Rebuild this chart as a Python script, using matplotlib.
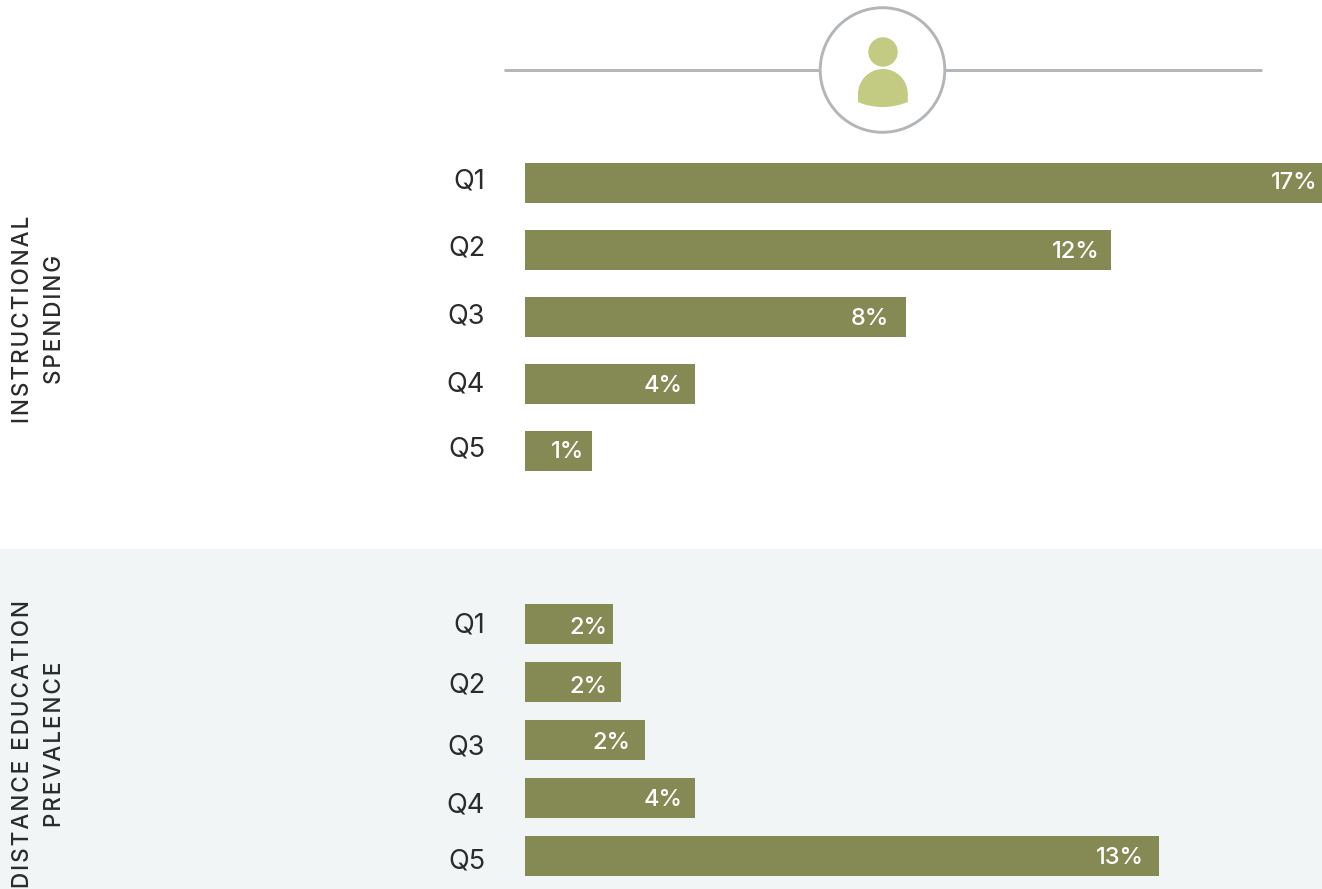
import matplotlib
matplotlib.use("Agg")
import matplotlib.pyplot as plt
from matplotlib.patches import Circle, Rectangle, PathPatch
from matplotlib.path import Path

plt.rcParams['font.family'] = ['Inter', 'DejaVu Sans']

W, H = 1322, 889
BAR = '#858a55'
ICON = '#c3ca82'
GREY = '#b3b6b9'
TEXT = '#2b2b2b'

quarters = ['Q1', 'Q2', 'Q3', 'Q4', 'Q5']

# bar lengths, printed labels are the rounded ones
spending = [17.0, 12.5, 8.13, 3.63, 1.43]
spending_labels = ['17%', '12%', '8%', '4%', '1%']
distance = [1.87, 2.05, 2.55, 3.63, 13.52]
distance_labels = ['2%', '2%', '2%', '4%', '13%']

XMAX = 17.0


def fig_rect(x0, y0, x1, y1):
    # pixels from the top left to a figure rectangle
    return [x0 / W, 1 - y1 / H, (x1 - x0) / W, (y1 - y0) / H]


def spaced(s):
    # no letter spacing in matplotlib, hair spaces get close
    return '\u200a'.join(s)


def bars(ax, values, labels, height, q_nudge, pad, val_nudge):
    ax.barh(quarters, values, height=height, color=BAR)
    ax.set_xlim(0, XMAX)
    ax.set_ylim(len(quarters) - 0.5, -0.5)
    ax.axis('off')
    ax.patch.set_alpha(0)
    for i, q in enumerate(quarters):
        ax.annotate(q, (0, i), xytext=(-40, q_nudge[i]), textcoords='offset pixels',
                    ha='right', va='center', fontsize=19.5, color=TEXT, annotation_clip=False)
        ax.annotate(labels[i], (values[i], i), xytext=(-pad[i], val_nudge[i]), textcoords='offset pixels',
                    ha='right', va='center', fontsize=17, fontweight='medium', color='white', annotation_clip=False)


fig = plt.figure(figsize=(W / 100, H / 100), dpi=100, facecolor='white')

bg = fig.add_axes([0, 0, 1, 1])
bg.set_xlim(0, W)
bg.set_ylim(H, 0)
bg.axis('off')
bg.set_aspect('equal')

# shaded lower panel
bg.add_patch(Rectangle((0, 549), W, H - 549, color='#f2f5f6', lw=0, zorder=0))

# header rule and person icon
bg.plot([504, 1262], [70, 70], color=GREY, lw=2.1, solid_capstyle='butt', zorder=1)
bg.add_patch(Circle((882.5, 70), 62.3, fc='white', ec=GREY, lw=2.1, zorder=2))
bg.add_patch(Circle((883, 52), 14.7, fc=ICON, ec='none', zorder=3))
body = Path(
    [(858, 102), (858, 94), (858, 80.2), (869.2, 69), (883, 69), (896.8, 69), (907.8, 80.2),
     (907.8, 94), (907.8, 102), (899, 105.5), (891, 107), (883, 107), (874, 107), (866, 105.5), (858, 102)],
    [Path.MOVETO, Path.LINETO, Path.CURVE4, Path.CURVE4, Path.CURVE4, Path.CURVE4, Path.CURVE4,
     Path.CURVE4, Path.LINETO] + [Path.CURVE4] * 6)
bg.add_patch(PathPatch(body, fc=ICON, ec='none', zorder=3))

ax1 = fig.add_axes(fig_rect(525, 149.0, 1322, 485.0))
bars(ax1, spending, spending_labels, 40 / 67.2,
     [1, 1, 0, 0, 2], [5, 11, 17, 13, 8], [0, -2, -2, -2, -1])

ax2 = fig.add_axes(fig_rect(525, 595.0, 1322, 885.0))
bars(ax2, distance, distance_labels, 40 / 58,
     [-2, -4, -7, -7, -6], [5, 14, 14, 13, 15], [-4, -5, -3, -2, -2])

side = dict(rotation=90, ha='center', va='center', fontsize=16.2, fontweight='medium',
            color=TEXT, linespacing=1.6, multialignment='center')
fig.text(39 / W, 1 - 319.5 / H, spaced('INSTRUCTIONAL') + '\n' + spaced('SPENDING'), **side)
fig.text(39 / W, 1 - 744.5 / H, spaced('DISTANCE EDUCATION') + '\n' + spaced('PREVALENCE'), **side)

fig.savefig('out.png', dpi=100)
